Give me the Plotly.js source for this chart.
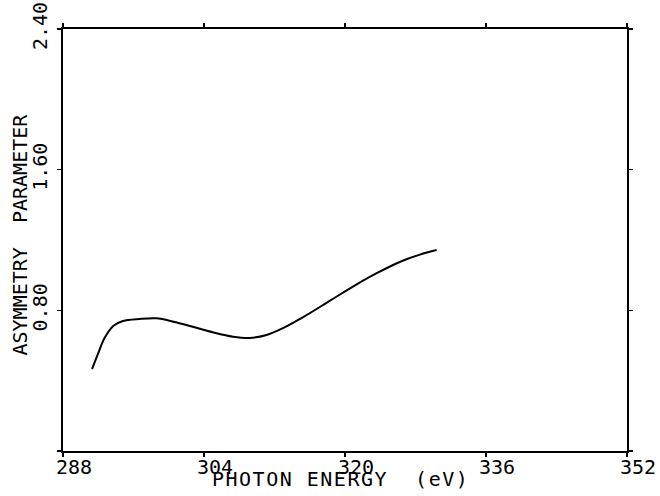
<!DOCTYPE html>
<html>
<head>
<meta charset="utf-8">
<script src="https://cdn.plot.ly/plotly-3.0.1.min.js"></script>
<style>html,body{margin:0;padding:0;background:#fff;}#chart{width:660px;height:496px;}</style>
</head>
<body>
<div id="chart"></div>
<script>
const photonEnergy = [291.3, 292.0, 292.7, 293.7, 294.8, 296.7, 298.6, 300.1, 302.4, 305.0, 307.3, 309.2, 311.1, 312.6, 315.2, 318.3, 320.9, 323.6, 326.2, 328.5, 330.4];
const asymmetry    = [0.466, 0.556, 0.641, 0.711, 0.739, 0.751, 0.755, 0.741, 0.711, 0.675, 0.650, 0.643, 0.660, 0.690, 0.760, 0.855, 0.935, 1.011, 1.075, 1.117, 1.143];
const xTickVals = [288, 304, 320, 336, 352];
const xTickText = ['288', '304', '320', '336', '352'];
const yTickVals = [0, 0.8, 1.6, 2.4];
const yTickText = ['', '0.80', '1.60', '2.40'];
const xTitle = 'PHOTON ENERGY  (eV)';
const yTitle = 'ASYMMETRY  PARAMETER';

const fontFam = 'DejaVu Sans Mono, monospace';

const trace = {
  x: photonEnergy,
  y: asymmetry,
  type: 'scatter',
  mode: 'lines',
  line: {color: '#000', width: 2, shape: 'spline', smoothing: 1},
  hoverinfo: 'skip'
};

const layout = {
  width: 660,
  height: 496,
  margin: {l: 63, r: 33, t: 29, b: 45},
  paper_bgcolor: '#fff',
  plot_bgcolor: '#fff',
  showlegend: false,
  font: {family: fontFam, color: '#000', size: 20},
  xaxis: {
    range: [288, 352],
    tickvals: xTickVals,
    ticktext: xTickText,
    ticks: 'outside',
    ticklen: 4,
    tickwidth: 1.5,
    tickcolor: '#000',
    showline: true,
    linecolor: '#000',
    linewidth: 2,
    mirror: 'ticks',
    showgrid: false,
    zeroline: false,
    tickangle: 0,
    ticklabelshift: 11,
    ticklabelstandoff: -7,
    tickfont: {family: fontFam, size: 20, color: '#000'}
  },
  yaxis: {
    range: [0, 2.4],
    tickvals: yTickVals,
    ticktext: yTickText,
    ticks: 'outside',
    ticklen: 4,
    tickwidth: 1.5,
    tickcolor: '#000',
    showline: true,
    linecolor: '#000',
    linewidth: 2,
    mirror: 'ticks',
    showgrid: false,
    zeroline: false,
    tickangle: -90,
    ticklabelstandoff: 2,
    tickfont: {family: fontFam, size: 20, color: '#000'}
  },
  annotations: [
    {
      text: '<span style="letter-spacing:1.5px">' + xTitle + '</span>',
      xref: 'paper', yref: 'paper',
      x: 0.4929, y: -0.066,
      xanchor: 'center', yanchor: 'middle',
      showarrow: false,
      font: {family: fontFam, size: 20, color: '#000'}
    },
    {
      text: yTitle,
      xref: 'paper', yref: 'paper',
      x: -0.0755, y: 0.514,
      xanchor: 'center', yanchor: 'middle',
      textangle: -90,
      showarrow: false,
      font: {family: fontFam, size: 20, color: '#000'}
    }
  ]
};

Plotly.newPlot('chart', [trace], layout, {staticPlot: true, displayModeBar: false});
</script>
</body>
</html>
